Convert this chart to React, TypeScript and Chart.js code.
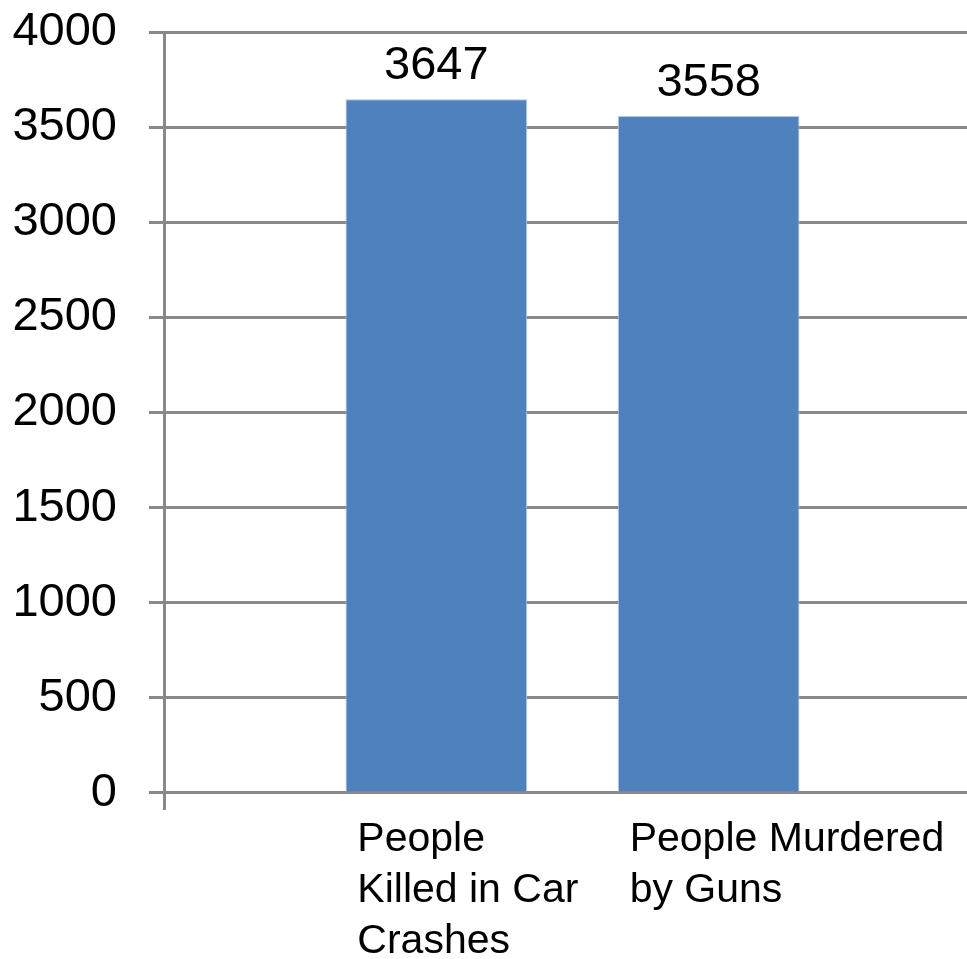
import React, { useEffect, useRef } from "react";
import { Chart, registerables } from "chart.js";

Chart.register(...registerables);

// ---- data ----
const categories: string[][] = [
  ["People", "Killed in Car", "Crashes"],
  ["People Murdered", "by Guns"],
];
const values: number[] = [3647, 3558];
const yMin = 0;
const yMax = 4000;
const yStep = 500;

// ---- styles ----
const FONT = "'Liberation Sans', Arial, Helvetica, sans-serif";
const GRID = "#898989";
const BAR = "#4F81BD";
const BAR_EDGE = "#B4C6DE";

const valueLabels = {
  id: "valueLabels",
  afterDatasetsDraw(chart: any) {
    const ctx = chart.ctx;
    const meta = chart.getDatasetMeta(0);
    const data = chart.data.datasets[0].data;
    ctx.save();
    ctx.font = `47px ${FONT}`;
    ctx.fillStyle = "#000";
    ctx.textAlign = "center";
    ctx.textBaseline = "alphabetic";
    meta.data.forEach((bar: any, i: number) => {
      const v = data[i];
      if (v == null) return;
      ctx.fillText(String(v), bar.x, bar.y - 20);
    });
    ctx.restore();
  },
};

export default function App() {
  const ref = useRef<HTMLCanvasElement | null>(null);

  useEffect(() => {
    if (!ref.current) return;
    Chart.defaults.font.family = FONT;
    const labels: any[] = ["", ...categories, ""];
    const data: (number | null)[] = [null, ...values, null];
    const chart = new Chart(ref.current, {
      type: "bar",
      data: {
        labels,
        datasets: [
          {
            data,
            backgroundColor: BAR,
            borderColor: BAR_EDGE,
            borderWidth: 1,
            categoryPercentage: 1,
            barPercentage: 0.667,
          },
        ],
      },
      plugins: [valueLabels],
      options: {
        responsive: false,
        animation: false,
        devicePixelRatio: 1,
        layout: { padding: { top: 32, right: 4, bottom: 4, left: 0 } },
        plugins: {
          legend: { display: false },
          tooltip: { enabled: false },
        },
        scales: {
          x: {
            type: "category",
            offset: false,
            grid: {
              offset: false,
              drawOnChartArea: false,
              drawTicks: true,
              tickLength: 17,
              color: GRID,
              lineWidth: (c: any) => (c.index === 0 ? 3 : 0),
            },
            border: { display: true, color: GRID, width: 3 },
            ticks: {
              autoSkip: false,
              maxRotation: 0,
              minRotation: 0,
              align: "start",
              labelOffset: -79,
              padding: 4,
              color: "#000",
              font: { size: 41, lineHeight: 1.244 },
            },
          },
          y: {
            min: yMin,
            max: yMax,
            afterFit: (s: any) => {
              s.width = 164;
              s.paddingTop = 0;
              s.paddingBottom = 0;
            },
            grid: {
              color: GRID,
              lineWidth: 3,
              tickLength: 15,
              drawTicks: true,
            },
            border: { display: true, color: GRID, width: 3 },
            ticks: {
              stepSize: yStep,
              padding: 32,
              color: "#000",
              font: { size: 47 },
              callback: (v: any) => String(v),
            },
          },
        },
      },
    } as any);
    return () => chart.destroy();
  }, []);

  return (
    <div
      style={{
        position: "fixed",
        left: 0,
        top: 0,
        width: 967,
        height: 959,
        overflow: "hidden",
        background: "#fff",
      }}
    >
      <canvas
        ref={ref}
        width={985}
        height={975}
        style={{ position: "absolute", left: 0, top: 0, width: 985, height: 975 }}
      />
    </div>
  );
}
